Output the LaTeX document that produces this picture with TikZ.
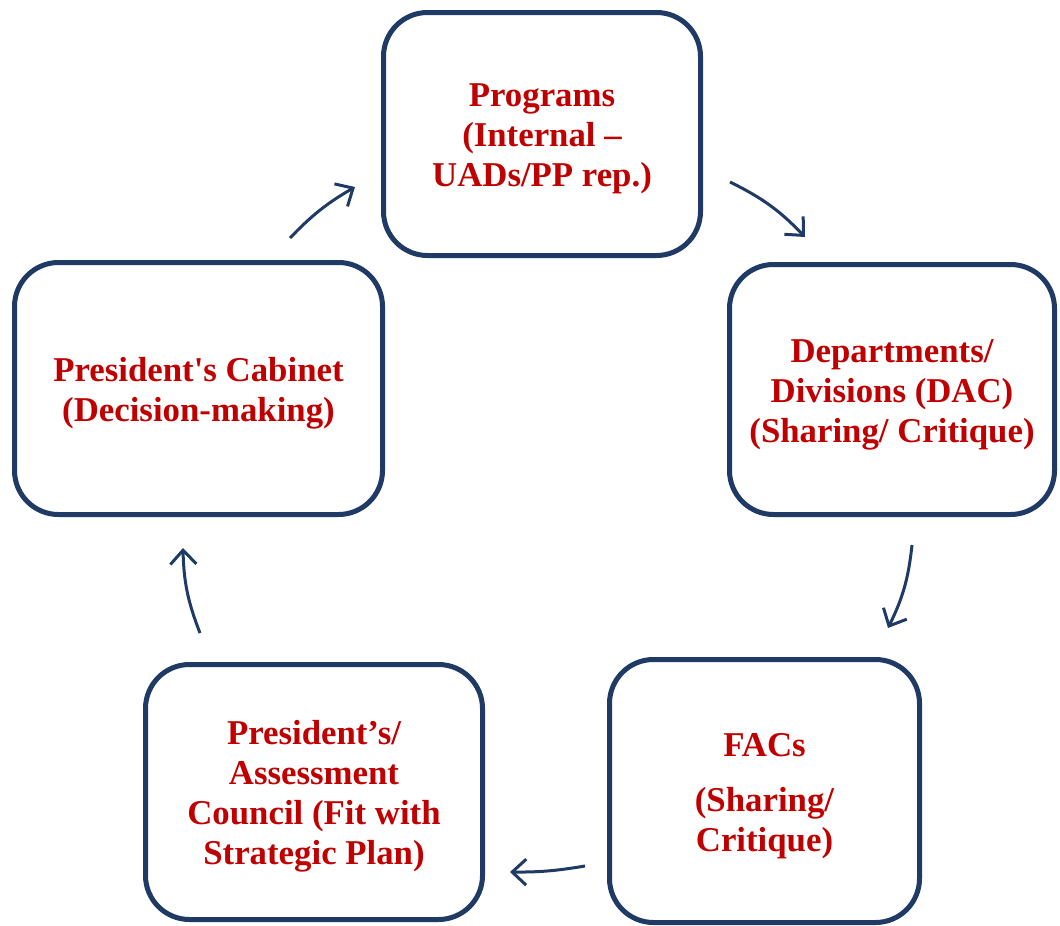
\documentclass[tikz,border=0pt]{standalone}
\usepackage{fontspec}
\setmainfont{Liberation Serif}
\usetikzlibrary{arrows.meta}

\definecolor{navy}{HTML}{1F3A64}
\definecolor{redtxt}{HTML}{C00000}

% extra room above the first line of a stage
\newcommand{\topstrut}{\rule{0pt}{16.5pt}}

\tikzset{
  stage/.style={draw=navy, line width=2.5pt, rounded corners=22pt, fill=white,
    text=redtxt, font=\fontsize{17.4}{20}\selectfont\bfseries, align=center, inner sep=0pt},
  flow/.style={draw=navy, line width=1.5pt, -{Straight Barb[length=7pt,width=13pt,line width=1.5pt]}}
}

\begin{document}
\begin{tikzpicture}[x=0.5pt, y=0.5pt]

    % Canvas (pixel units of the reference)
    \useasboundingbox (0,0) rectangle (1060,-926);

    % The five stages of the cycle
    \node[stage, minimum width=158.5pt, minimum height=121.5pt] (prog) at (542,-134)
        {\topstrut Programs\\(Internal –\\UADs/PP rep.)};
    \node[stage, minimum width=162.5pt, minimum height=125pt] (dept) at (892,-389.5)
        {\topstrut Departments/\\Divisions (DAC)\\(Sharing/ Critique)};
    \node[stage, minimum width=155pt, minimum height=131.5pt] (facs) at (764.5,-791)
        {\topstrut FACs\\[7.5pt](Sharing/\\Critique)};
    \node[stage, minimum width=168.5pt, minimum height=127.5pt] (assess) at (314,-792)
        {\topstrut President’s/\\Assessment\\Council (Fit with\\Strategic Plan)};
    \node[stage, minimum width=184pt, minimum height=126pt] (cabinet) at (198.5,-388.5)
        {\topstrut President\textquotesingle s Cabinet\\(Decision-making)};

    % Free ends of the arrows between the stages
    \coordinate (c1) at (290,-238);
    \coordinate (p1) at (355,-187);
    \coordinate (p2) at (730,-182);
    \coordinate (d2) at (805,-237);
    \coordinate (d3) at (912,-545);
    \coordinate (f3) at (888,-628);
    \coordinate (f4) at (585,-866);
    \coordinate (a4) at (510,-872);
    \coordinate (a5) at (200,-633);
    \coordinate (b5) at (183,-548);

    % Arrows of the cycle
    \draw[flow] (c1) to[bend left=8] (p1);
    \draw[flow] (p2) to[bend left=10] (d2);
    \draw[flow] (d3) to[bend left=10] (f3);
    \draw[flow] (f4) to[bend left=5] (a4);
    \draw[flow] (a5) to[bend left=10] (b5);

\end{tikzpicture}
\end{document}
